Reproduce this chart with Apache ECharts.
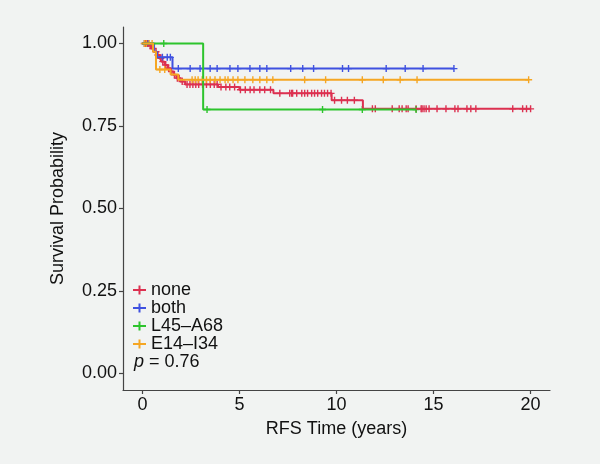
<!DOCTYPE html>
<html><head><meta charset="utf-8">
<script src="https://cdn.jsdelivr.net/npm/echarts@6/dist/echarts.min.js"></script>
<style>html,body{margin:0;padding:0;background:#F1F3F2}#c{width:600px;height:464px}</style>
</head><body><div id="c"></div>
<script>
// ---- data ----
const groupNames = ['none', 'both', 'L45–A68', 'E14–I34'];
const groupColors = ['#DC3050', '#3F51E0', '#2DC42D', '#F5A623'];

const noneTimes = [0, 0.3, 0.45, 0.6, 0.75, 0.9, 1.0, 1.15, 1.3, 1.45, 1.6, 1.75, 1.95, 2.2, 3.9, 5.0, 6.75, 9.75, 11.36, 20];
const noneSurv  = [1, 0.993, 0.985, 0.975, 0.965, 0.955, 0.945, 0.935, 0.925, 0.915, 0.905, 0.895, 0.885, 0.876, 0.868, 0.860, 0.849, 0.828, 0.802, 0.802];
const noneCensor = [0.15, 0.25, 0.4, 0.55, 0.7, 0.8, 0.95, 1.05, 1.2, 1.35, 1.5, 1.65, 1.8, 1.9, 2.05, 2.3, 2.45, 2.6, 2.75, 2.9, 3.1, 3.3, 3.5, 3.7, 3.85, 4.05, 4.3, 4.5, 4.75, 5.05, 5.3, 5.55, 5.75, 6.05, 6.3, 6.6, 7.08, 7.59, 7.69, 7.74, 7.95, 8.21, 8.36, 8.51, 8.72, 8.87, 9.03, 9.23, 9.38, 9.54, 9.72, 9.9, 10.26, 10.56, 10.92, 11.85, 12.0, 12.87, 13.23, 13.38, 13.59, 13.69, 14.1, 14.36, 14.41, 14.51, 14.62, 14.77, 15.18, 15.64, 16.1, 16.26, 16.72, 16.92, 17.18, 19.08, 19.59, 19.79, 20];

const bothTimes = [0, 0.6, 0.75, 1.55, 16.05];
const bothSurv  = [1, 0.975, 0.958, 0.924, 0.924];
const bothCensor = [0.1, 0.3, 1.03, 1.28, 1.44, 1.85, 2.46, 2.97, 3.49, 3.85, 4.51, 4.92, 5.54, 6.05, 6.41, 7.64, 8.26, 8.82, 10.31, 10.62, 12.56, 13.54, 14.46, 16.05];

const l45Times = [0, 3.13, 14.1];
const l45Surv  = [1, 0.80, 0.80];
const l45Censor = [1.1, 3.33, 9.28, 11.33, 14.1];

const e14Times = [0, 0.55, 0.7, 1.45, 1.85, 19.9];
const e14Surv  = [1, 0.975, 0.921, 0.906, 0.89, 0.89];
const e14Censor = [0.1, 0.2, 0.35, 0.5, 0.9, 1.15, 2.56, 2.72, 2.87, 3.08, 3.3, 3.49, 3.74, 4.0, 4.26, 4.41, 4.67, 4.92, 5.28, 5.69, 6.05, 6.41, 6.72, 8.36, 9.44, 11.33, 12.41, 13.28, 14.15, 19.9];

const xTicks = [0, 5, 10, 15, 20];
const yTicks = [0, 0.25, 0.5, 0.75, 1];
const pValueText = '= 0.76';

// ---- build ----
const groups = [
  [noneTimes, noneSurv, noneCensor],
  [bothTimes, bothSurv, bothCensor],
  [l45Times, l45Surv, l45Censor],
  [e14Times, e14Surv, e14Censor]
];
function survAt(times, surv, t) {
  let s = surv[0];
  for (let i = 0; i < times.length; i++) if (times[i] <= t) s = surv[i];
  return s;
}
const plusPath = 'path://M0,4h10v2h-10z M4,0h2v10h-2z';
const legendIcon = 'path://M0,3.5h13v2h-13z M5.5,0h2v9h-2z';
const FONT = '"Liberation Sans", Arial, sans-serif';

const series = [];
groups.forEach((g, i) => {
  const [times, surv, cens] = g;
  series.push({
    name: groupNames[i], type: 'line', step: 'end', showSymbol: false,
    data: times.map((t, k) => [t, surv[k]]),
    lineStyle: { color: groupColors[i], width: 2 },
    itemStyle: { color: groupColors[i] },
    silent: true, animation: false
  });
  series.push({
    name: groupNames[i], type: 'scatter', symbol: plusPath, symbolSize: 7,
    data: cens.map(t => [t, survAt(times, surv, t)]),
    itemStyle: { color: groupColors[i], opacity: 1 },
    silent: true, animation: false
  });
});

const chart = echarts.init(document.getElementById('c'), null, { renderer: 'canvas' });
chart.setOption({
  backgroundColor: '#F1F3F2',
  animation: false,
  textStyle: { fontFamily: FONT },
  grid: { left: 123, right: 50, top: 27, bottom: 74 },
  xAxis: {
    type: 'value', min: -1, max: 21,
    axisLine: { show: true, onZero: false, lineStyle: { color: '#444', width: 1.2 } },
    axisTick: { show: true, customValues: xTicks, length: 4, lineStyle: { color: '#444', width: 1.2 } },
    axisLabel: { customValues: xTicks, fontSize: 18, color: '#111', margin: 6, fontFamily: FONT },
    splitLine: { show: false },
    name: 'RFS Time (years)', nameLocation: 'middle', nameGap: 30,
    nameTextStyle: { fontSize: 18, color: '#111', fontFamily: FONT }
  },
  yAxis: {
    type: 'value', min: -0.05, max: 1.05,
    axisLine: { show: true, onZero: false, lineStyle: { color: '#444', width: 1.2 } },
    axisTick: { show: true, customValues: yTicks, length: 4, lineStyle: { color: '#444', width: 1.2 } },
    axisLabel: { customValues: yTicks, formatter: v => v.toFixed(2), fontSize: 18, color: '#111', margin: 6, fontFamily: FONT },
    splitLine: { show: false },
    name: 'Survival Probability', nameLocation: 'middle', nameGap: 56,
    nameTextStyle: { fontSize: 18, color: '#111', fontFamily: FONT }
  },
  legend: {
    orient: 'vertical', left: 128, top: 276, padding: 5,
    itemWidth: 13, itemHeight: 9, itemGap: 0, itemTextGap: 3,
    selectedMode: false,
    data: groupNames.map(n => ({ name: n, icon: legendIcon })),
    textStyle: { fontSize: 18, color: '#111', fontFamily: FONT }
  },
  graphic: [{
    type: 'text', x: 134, y: 362, silent: true,
    style: {
      text: '{i|p} ' + pValueText,
      rich: { i: { fontStyle: 'italic', fontSize: 18, fontFamily: FONT, fill: '#111' } },
      fontSize: 18, fontFamily: FONT, fill: '#111', verticalAlign: 'middle'
    }
  }],
  series: series
});
</script>
</body></html>
